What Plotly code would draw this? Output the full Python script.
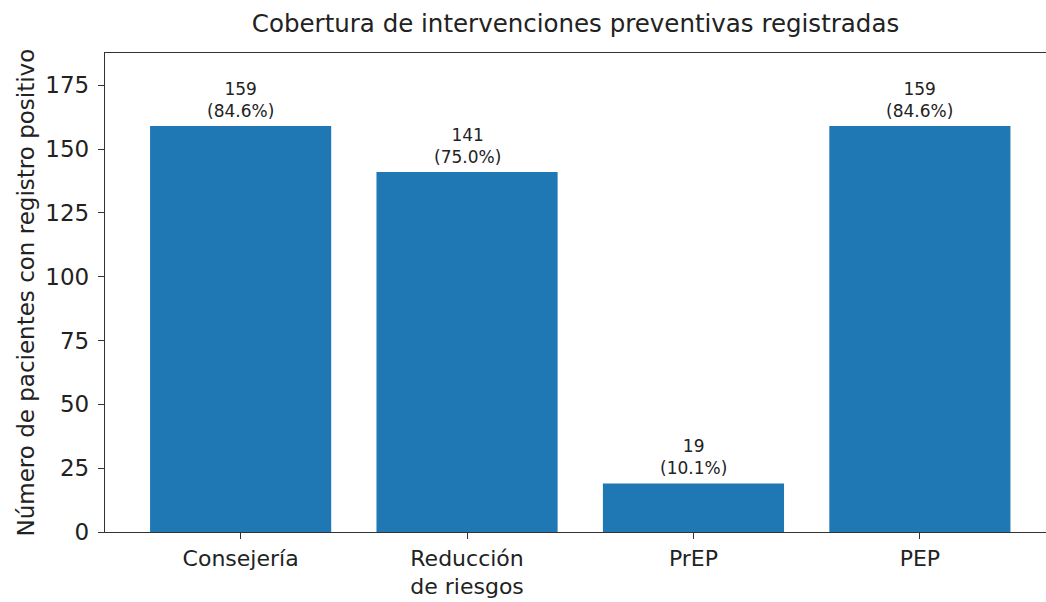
import plotly.graph_objects as go

# ---------------------------------------------------------------------
# Data
# ---------------------------------------------------------------------
categories = ["Consejería", "Reducción<br>de riesgos", "PrEP", "PEP"]
counts = [159, 141, 19, 159]
percents = [84.6, 75.0, 10.1, 84.6]
y_ticks = [0, 25, 50, 75, 100, 125, 150, 175]

FONT = "DejaVu Sans, Verdana, sans-serif"
INK = "#222222"

fig = go.Figure(
    go.Bar(
        x=categories,
        y=counts,
        marker=dict(color="#1f77b4", line=dict(width=0)),
        hoverinfo="skip",
    )
)

# labels above each bar
for cat, n, p in zip(categories, counts, percents):
    fig.add_annotation(
        x=cat, y=n, text=f"{n}<br>({p:.1f}%)",
        showarrow=False, yanchor="bottom", yshift=3,
        font=dict(family=FONT, size=17, color=INK),
    )

# y axis label placed by hand so the plot area stays fixed
fig.add_annotation(
    text="Número de pacientes con registro positivo",
    xref="paper", yref="paper", x=-0.085, y=0.5,
    xanchor="center", yanchor="middle", textangle=-90, showarrow=False,
    font=dict(family=FONT, size=23, color=INK),
)

fig.update_layout(
    width=1046, height=602,
    margin=dict(l=105, r=0, t=53, b=70, autoexpand=False),
    paper_bgcolor="white", plot_bgcolor="white",
    bargap=0.2,
    showlegend=False,
    font=dict(family=FONT, color=INK),
    title=dict(
        text="Cobertura de intervenciones preventivas registradas",
        x=0.5, xanchor="center", xref="paper",
        y=1 - 23 / 602, yref="container", yanchor="middle",
        font=dict(family=FONT, size=24.5, color=INK),
    ),
)

# the source image is cropped on the right, so no right spine is visible
fig.update_xaxes(
    type="category", range=[-0.599, 3.557], automargin=False,
    showline=True, linecolor="#333333", linewidth=1.3, mirror=True,
    ticks="outside", ticklen=6, tickcolor="#333333",
    tickfont=dict(family=FONT, size=22, color=INK),
    showgrid=False, zeroline=False,
)
fig.update_yaxes(
    range=[0, 187.6], tickvals=y_ticks, automargin=False,
    showline=True, linecolor="#333333", linewidth=1.3, mirror=False,
    ticks="outside", ticklen=6, tickcolor="#333333", ticklabelstandoff=4,
    tickfont=dict(family=FONT, size=23, color=INK),
    showgrid=False, zeroline=False,
)

fig.write_html(
    "out.html",
    config={"displayModeBar": False},
    post_script="document.body.style.margin = '0';",
)
